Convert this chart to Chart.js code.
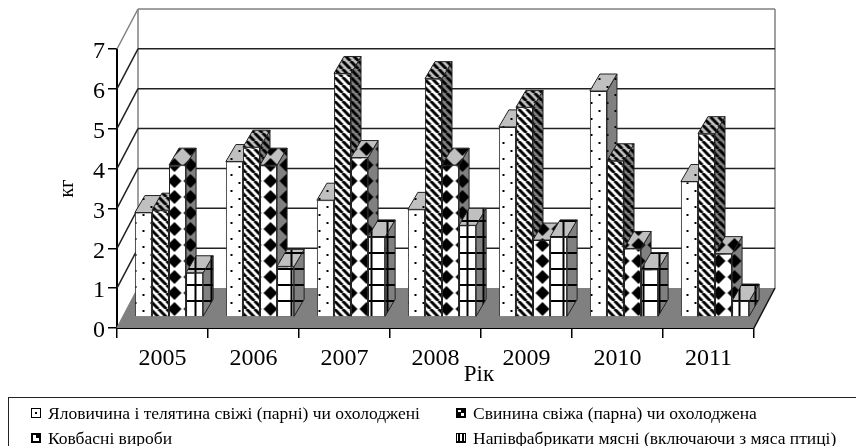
<!DOCTYPE html>
<html>
<head>
<meta charset="utf-8">
<script src="https://cdn.jsdelivr.net/npm/chart.js@4.4.0/dist/chart.umd.min.js"></script>
<style>
  html, body { margin: 0; padding: 0; background: #fff; overflow: hidden; }
  #wrap { position: relative; width: 856px; height: 446px; overflow: hidden; }
  #legend {
    position: absolute; left: 8px; top: 397px; width: 860px; height: 60px;
    border: 1px solid #222; box-sizing: border-box;
    font: 17.5px "Liberation Serif", serif; color: #000;
  }
  .item { position: absolute; white-space: nowrap; line-height: 20px; }
  .item canvas { position: absolute; left: -17px; top: 5px; }
</style>
</head>
<body>
<div id="wrap">
  <canvas id="chart" width="856" height="446"></canvas>
  <div id="legend"></div>
</div>
<script>
const years = ['2005', '2006', '2007', '2008', '2009', '2010', '2011'];
const beef = [2.62, 3.90, 2.93, 2.70, 4.77, 5.67, 3.40];
const pork = [2.68, 4.26, 6.11, 5.98, 5.26, 3.92, 4.60];
const sausage = [3.81, 3.81, 4.00, 3.81, 1.93, 1.72, 1.59];
const semi = [1.11, 1.27, 2.01, 2.30, 2.01, 1.19, 0.40];
const seriesNames = [
  'Яловичина і телятина свіжі (парні) чи охолоджені',
  'Свинина свіжа (парна) чи охолоджена',
  'Ковбасні вироби',
  'Напівфабрикати мясні (включаючи з мяса птиці)'
];

// tiles for the hatch fills, bg changes for the top and side faces
const tile = (kind, bg) => {
  const c = document.createElement('canvas');
  const size = kind === 'stripes' ? 8 : 16;
  c.width = c.height = size;
  const g = c.getContext('2d');
  g.fillStyle = bg;
  g.fillRect(0, 0, size, size);
  g.fillStyle = '#000';
  if (kind === 'dots') {
    g.fillRect(8, 1, 2, 2);
    g.fillRect(0, 9, 2, 2);
  } else if (kind === 'stripes') {
    g.strokeStyle = '#000';
    g.lineWidth = 3;
    g.beginPath();
    for (let i = -8; i <= 8; i += 8) {
      g.moveTo(i, 0);
      g.lineTo(i + 8, 8);
    }
    g.stroke();
  } else if (kind === 'diamonds') {
    [0, 16].forEach(cy => {
      g.beginPath();
      g.moveTo(8, cy - 7); g.lineTo(15, cy); g.lineTo(8, cy + 7); g.lineTo(1, cy);
      g.closePath();
      g.fill();
    });
  } else {
    g.fillRect(0, 7, 16, 2);
    g.fillRect(12, 0, 2, 16);
  }
  return c;
};
const kinds = ['dots', 'stripes', 'diamonds', 'grid'];
const ctx = document.getElementById('chart').getContext('2d');
const fills = kinds.map(k => ({
  front: ctx.createPattern(tile(k, '#fff'), 'repeat'),
  top: ctx.createPattern(tile(k, '#c0c0c0'), 'repeat'),
  side: ctx.createPattern(tile(k, '#808080'), 'repeat')
}));

const wallDx = 21, wallDy = -40;   // depth of the box
const barDx = 6.5, barDy = -11;    // bars stand a little inside the floor
const depthDx = 10, depthDy = -17; // depth of one bar

const line = (c, x1, y1, x2, y2) => {
  c.beginPath();
  c.moveTo(x1, y1);
  c.lineTo(x2, y2);
  c.stroke();
};
const poly = (c, pts, fill) => {
  c.beginPath();
  pts.forEach((p, i) => i ? c.lineTo(p[0], p[1]) : c.moveTo(p[0], p[1]));
  c.closePath();
  c.fillStyle = fill;
  c.fill();
  c.stroke();
};

const box3d = {
  id: 'box3d',
  beforeDraw(chart) {
    // digits sit a bit lower than the 'middle' baseline gives
    chart.scales.y.getLabelItems().forEach(it => { it.options.translation[1] += 3; });
  },
  beforeDatasetsDraw(chart) {
    const c = chart.ctx, y = chart.scales.y, a = chart.chartArea;
    const bx = a.left + wallDx, rx = a.right + wallDx;
    c.save();
    // floor
    c.fillStyle = '#808080';
    c.beginPath();
    c.moveTo(a.left, a.bottom);
    c.lineTo(a.right, a.bottom);
    c.lineTo(rx, a.bottom + wallDy);
    c.lineTo(bx, a.bottom + wallDy);
    c.closePath();
    c.fill();
    // walls
    c.lineWidth = 1.5;
    c.strokeStyle = '#808080';
    line(c, a.left, a.top, bx, a.top + wallDy);
    line(c, bx, a.top + wallDy, rx, a.top + wallDy);
    line(c, bx, a.top + wallDy, bx, a.bottom + wallDy);
    line(c, rx, a.top + wallDy, rx, a.bottom + wallDy);
    line(c, a.left, a.bottom, bx, a.bottom + wallDy);
    // grid lines, back and left wall
    c.strokeStyle = '#222';
    y.ticks.forEach(t => {
      if (t.value === 0 || t.value === 7) return;
      const py = y.getPixelForValue(t.value);
      line(c, a.left, py, bx, py + wallDy);
      line(c, bx, py + wallDy, rx, py + wallDy);
    });
    c.strokeStyle = '#111';
    line(c, a.right, a.bottom, rx, a.bottom + wallDy);
    c.restore();

    // left series first, so each bar hides the side of the one before it
    series.forEach((ds, i) => {
      const meta = chart.getDatasetMeta(i);
      c.save();
      c.translate(barDx, barDy);
      meta.controller.draw();
      c.lineWidth = 1;
      c.strokeStyle = '#222';
      meta.data.forEach(bar => {
        const l = bar.x - bar.width / 2, r = bar.x + bar.width / 2;
        const t = bar.y, b = bar.base;
        poly(c, [[r, t], [r + depthDx, t + depthDy], [r + depthDx, b + depthDy], [r, b]], fills[i].side);
        poly(c, [[l, t], [l + depthDx, t + depthDy], [r + depthDx, t + depthDy], [r, t]], fills[i].top);
      });
      c.restore();
    });
    return false;
  },
  afterDraw(chart) {
    const c = chart.ctx;
    c.save();
    c.fillStyle = '#000';
    c.font = '23px "Liberation Serif", serif';
    c.textAlign = 'center';
    c.textBaseline = 'middle';
    c.fillText('Рік', 479, 375);
    c.restore();
  }
};

const series = [beef, pork, sausage, semi].map((data, i) => ({
  label: seriesNames[i],
  data,
  backgroundColor: fills[i].front,
  borderColor: '#222',
  borderWidth: 1
}));

new Chart(ctx, {
  type: 'bar',
  data: { labels: years, datasets: series },
  plugins: [box3d],
  options: {
    responsive: false,
    animation: false,
    layout: { padding: { top: 49, right: 102, left: 0, bottom: 0 } },
    categoryPercentage: 0.75,
    barPercentage: 1,
    plugins: { legend: { display: false }, tooltip: { enabled: false } },
    scales: {
      x: {
        afterFit: s => { s.height = 118; },
        grid: { drawOnChartArea: false, color: '#000', tickLength: 10, lineWidth: 1.5 },
        border: { color: '#000', width: 2 },
        ticks: { color: '#000', font: { family: 'Liberation Serif', size: 24 }, padding: 6, maxRotation: 0, autoSkip: false }
      },
      y: {
        min: 0,
        max: 7,
        afterFit: s => { s.width = 117; },
        grid: { drawOnChartArea: false, color: '#000', tickLength: 9, lineWidth: 1.5 },
        border: { color: '#000', width: 2 },
        ticks: { stepSize: 1, color: '#000', font: { family: 'Liberation Serif', size: 24 }, padding: 3 },
        title: { display: true, text: 'кг', color: '#000', font: { family: 'Liberation Serif', size: 20 }, padding: { top: 56, bottom: 0 } }
      }
    }
  }
});

// two column legend in a ruled box, swatches are only specks at this size
const swatch = {
  dots: g => { g.fillRect(4, 4, 2, 2); },
  stripes: g => { g.fillRect(0, 0, 10, 10); g.clearRect(2, 2, 3, 2); g.clearRect(5, 5, 3, 3); },
  diamonds: g => { g.fillRect(0, 0, 10, 10); g.clearRect(2, 2, 3, 3); g.clearRect(2, 5, 6, 3); },
  grid: g => { g.fillRect(2, 0, 2, 10); g.fillRect(6, 0, 2, 10); g.fillRect(0, 8, 10, 2); }
};
const legendPos = [[39, 5], [464, 5], [39, 30], [464, 30]];
const legend = document.getElementById('legend');
seriesNames.forEach((name, i) => {
  const item = document.createElement('div');
  item.className = 'item';
  item.style.left = legendPos[i][0] + 'px';
  item.style.top = legendPos[i][1] + 'px';
  item.textContent = name;
  const sw = document.createElement('canvas');
  sw.width = sw.height = 10;
  const g = sw.getContext('2d');
  g.fillStyle = '#000';
  swatch[kinds[i]](g);
  g.strokeRect(0.5, 0.5, 9, 9);
  item.appendChild(sw);
  legend.appendChild(item);
});
</script>
</body>
</html>
